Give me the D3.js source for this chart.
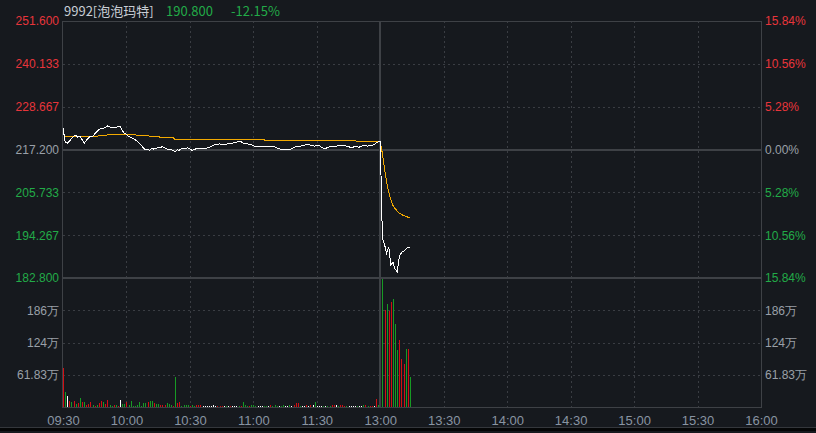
<!DOCTYPE html>
<html>
<head>
<meta charset="utf-8">
<script src="https://cdn.jsdelivr.net/npm/d3@7"></script>
<style>
    html, body { margin: 0; padding: 0; background: #16191e; }
    svg { display: block; font-family: "Noto Sans CJK SC", "Noto Sans", sans-serif; }
</style>
</head>
<body>
<div class="container"></div>
<script>
const w = 816;
const h = 433;

const stockName = '9992[泡泡玛特]';
const prevClose = 217.2;
const lastPrice = 190.8;
const lastChange = '-12.15%';

const timeLabels = ['09:30', '10:00', '10:30', '11:00', '11:30', '13:00', '13:30', '14:00', '14:30', '15:00', '15:30', '16:00'];
const priceTicks = [251.6, 240.133, 228.667, 217.2, 205.733, 194.267, 182.8];
const pctTicks = ['15.84%', '10.56%', '5.28%', '0.00%', '5.28%', '10.56%', '15.84%'];
const volTicks = [61.83, 123.66, 185.49];
const volTickLabels = ['61.83万', '124万', '186万'];

// minute prices 09:30 .. 12:00 (index 0..150)
const priceMorning = [
    223.0, 219.3, 218.9, 219.4, 220.1, 220.7, 221.0, 220.5, 220.7, 219.9,
    218.9, 219.6, 220.3, 220.8, 220.6, 221.4, 222.0, 222.5, 222.8, 222.9,
    223.0, 223.5, 223.3, 223.0, 223.1, 223.0, 223.4, 223.3, 222.3, 221.5,
    221.3, 220.7, 220.5, 220.1, 219.9, 219.4, 218.9, 218.3, 217.6, 217.1,
    217.3, 217.0, 217.5, 217.3, 217.5, 217.8, 217.7, 218.0, 217.7, 217.4,
    217.1, 217.2, 216.9, 216.6, 217.1, 217.0, 217.5, 217.5, 217.4, 217.7,
    217.3, 217.0, 217.1, 217.5, 217.5, 217.5, 217.5, 217.6, 217.6, 217.8,
    218.0, 218.3, 218.6, 218.6, 218.7,
    218.54, 218.5, 218.6, 218.7, 218.8, 218.9, 219.0, 219.15, 219.3, 219.35,
    219.0, 218.7, 218.8, 218.4, 218.5, 218.2, 218.0, 218.0, 218.0, 218.0,
    218.1, 218.0, 218.0, 217.9, 218.1, 218.0, 217.6, 217.4, 217.3, 217.3,
    217.2, 217.1, 217.2, 217.4, 217.7, 218.0, 218.1, 218.1, 218.2, 218.3,
    218.5, 218.5, 218.4, 218.2, 218.1, 218.2, 218.3, 217.9, 217.6, 217.45,
    217.7, 217.9, 218.1, 218.0, 218.1, 218.2, 218.3, 218.3, 218.2, 218.1,
    218.0, 217.7, 217.8, 218.0, 217.9, 217.8, 218.1, 218.2, 218.3, 218.1,
    218.2, 218.3, 218.5, 218.9, 219.25, 219.35
];
// 13:01 .. 13:14 (index 151..164)
const priceAfternoon = [193.6, 191.8, 189.4, 191.1, 186.4, 187.0, 185.2, 184.5, 188.5, 189.6, 190.0, 190.4, 191.1, 190.8];

const avgMorning = [
    221.5, 220.55, 220.55, 220.55, 220.55, 220.55, 220.55, 220.55, 220.55, 220.55,
    220.55, 220.55, 220.55, 220.55, 220.55, 220.55, 220.7, 220.85, 220.85, 220.85,
    220.85, 221.1, 221.1, 221.1, 221.1, 221.1, 221.1, 221.1, 221.1, 221.2,
    221.2, 221.2, 221.2, 221.2, 221.2, 221.0, 221.0, 221.0, 221.0, 221.0,
    221.0, 220.75, 220.75, 220.75, 220.75, 220.75, 220.4, 220.4, 220.4, 220.4,
    220.4, 220.4, 220.4, 219.9, 219.9, 219.9, 219.9, 219.9, 219.9, 219.9,
    219.9, 219.9, 219.9, 219.9, 219.9, 219.9, 219.9, 219.9, 219.9, 219.9,
    219.9, 219.8, 219.8, 219.8, 219.8, 219.8, 219.8, 219.8, 219.8, 219.8,
    219.8, 219.8, 219.8, 219.8, 219.8, 219.8, 219.8, 219.8, 219.8, 219.8,
    219.8, 219.8, 219.8, 219.8, 219.8, 219.8, 219.55, 219.55, 219.55, 219.55,
    219.55, 219.55, 219.55, 219.55, 219.55, 219.55, 219.55, 219.55, 219.55, 219.55,
    219.55, 219.55, 219.55, 219.55, 219.55, 219.55, 219.55, 219.55, 219.55, 219.55,
    219.55, 219.55, 219.55, 219.55, 219.55, 219.55, 219.55, 219.55, 219.55, 219.55,
    219.55, 219.55, 219.55, 219.55, 219.55, 219.55, 219.55, 219.55, 219.55, 219.35,
    219.35, 219.35, 219.35, 219.35, 219.35, 219.35, 219.35, 219.35, 219.35, 219.35,
    219.35
];
const avgAfternoon = [216.1, 212.1, 208.6, 205.7, 203.8, 202.2, 201.4, 200.7, 200.2, 199.8, 199.5, 199.3, 199.1, 199.0];

// volume in 万, index 0..149
const volMorning = [
    75, 29, 22, 12, 10, 12, 5, 8, 18, 9,
    10, 3, 5, 9, 3, 2, 3, 7, 12, 10,
    5, 13, 3, 2, 3, 3, 2, 13, 6, 6,
    10, 3, 12, 2, 2, 3, 10, 2, 8, 8,
    10, 12, 12, 7, 6, 5, 3, 3, 3, 8,
    6, 4, 2, 58, 8, 10, 2, 4, 4, 3,
    2, 3, 2, 3, 3, 3, 2, 2, 2, 2,
    2, 4, 2, 2, 2, 2, 2, 2, 2, 2,
    2, 2, 2, 2, 2, 10, 4, 2, 2, 3,
    3, 2, 2, 2, 2, 2, 2, 2, 3, 2,
    3, 2, 2, 2, 4, 2, 2, 4, 2, 3,
    8, 8, 2, 2, 2, 3, 2, 4, 4, 10,
    2, 2, 2, 2, 2, 2, 2, 3, 4, 4,
    2, 4, 4, 2, 2, 2, 2, 2, 2, 2,
    2, 2, 4, 4, 2, 2, 2, 2, 16, 4
];
const volMorningDir = (
    'RGWRGRGRGR' + 'GRRRGRGRRG' + 'RRGGRGRWGG' + 'RGGGGGGGGG' + 'RGGRGGRRRG' +
    'GGRGRRGGGG' + 'RGGRRRWWWW' + 'WWWRRRWGWR' + 'WWWGRGGGRG' + 'GGWWWGGWRG' +
    'GGWGGWWGWR' + 'RRGWWRWRWG' + 'WWWGWGGRRW' + 'GRRRGWWWWG' + 'WWGRGRRWRG'
).split('');
// volume 13:01 .. 13:14
const volAfternoon = [245, 186, 197, 184, 201, 207, 159, 109, 128, 92, 82, 111, 111, 58];
const volAfternoonDir = 'GRGRRGGGRRRGRG'.split('');

const plot = { left: 63, right: 761, top: 21, mid: 278, bottom: 407 };
const colors = {
    bg: '#16191e',
    grid: '#3a3d43',
    frame: '#3e4146',
    up: '#e8353b',
    down: '#22ab48',
    neutral: '#9aa0a8',
    time: '#8994a2',
    barUp: '#d10f14',
    barDown: '#179a24',
    barFlat: '#ffffff',
    price: '#ffffff',
    avg: '#f2a900'
};

const x = d3.scaleLinear([0, 330], [plot.left, plot.right]);
const yPrice = d3.scaleLinear([182.8, 251.6], [plot.mid, plot.top]);
const yVol = d3.scaleLinear([0, volTicks[0] * 4], [plot.bottom, plot.mid]);

const priceData = priceMorning.map((p, i) => ({ i, p, a: avgMorning[i] }))
    .concat(priceAfternoon.map((p, k) => ({ i: 151 + k, p, a: avgAfternoon[k] })));
const volData = volMorning.map((v, i) => ({ i, v, d: volMorningDir[i] }))
    .concat(volAfternoon.map((v, k) => ({ i: 151 + k, v, d: volAfternoonDir[k] })));

const svg = d3.select('.container')
    .append('svg')
    .attr('width', w)
    .attr('height', h)
    .attr('viewBox', [0, 0, w, h]);

svg.append('rect').attr('width', w).attr('height', h).attr('fill', colors.bg);

// grid
const grid = svg.append('g').attr('shape-rendering', 'crispEdges');
grid.selectAll('.hdot')
    .data([240.133, 228.667, 205.733, 194.267])
    .join('line')
    .attr('x1', plot.left).attr('x2', plot.right)
    .attr('y1', d => Math.round(yPrice(d)) + 0.5).attr('y2', d => Math.round(yPrice(d)) + 0.5)
    .attr('stroke', colors.grid).attr('stroke-dasharray', '2,3');
grid.selectAll('.vdot')
    .data(volTicks)
    .join('line')
    .attr('x1', plot.left).attr('x2', plot.right)
    .attr('y1', d => Math.round(yVol(d)) + 0.5).attr('y2', d => Math.round(yVol(d)) + 0.5)
    .attr('stroke', colors.grid).attr('stroke-dasharray', '2,3');
grid.selectAll('.tdot')
    .data(d3.range(30, 330, 30).filter(t => t !== 150))
    .join('line')
    .attr('x1', d => Math.round(x(d)) + 0.5).attr('x2', d => Math.round(x(d)) + 0.5)
    .attr('y1', plot.top).attr('y2', plot.bottom)
    .attr('stroke', colors.grid).attr('stroke-dasharray', '2,3');

// solid separators
grid.append('line')
    .attr('x1', plot.left).attr('x2', plot.right)
    .attr('y1', yPrice(prevClose)).attr('y2', yPrice(prevClose))
    .attr('stroke', colors.frame).attr('stroke-width', 2);
grid.append('line')
    .attr('x1', plot.left).attr('x2', plot.right)
    .attr('y1', plot.mid).attr('y2', plot.mid)
    .attr('stroke', colors.frame).attr('stroke-width', 2);
grid.append('line')
    .attr('x1', x(150)).attr('x2', x(150))
    .attr('y1', plot.top).attr('y2', plot.bottom)
    .attr('stroke', colors.frame).attr('stroke-width', 2);
grid.append('rect')
    .attr('x', plot.left - 0.5).attr('y', plot.top + 0.5)
    .attr('width', plot.right - plot.left + 1).attr('height', plot.bottom - plot.top)
    .attr('fill', 'none').attr('stroke', colors.frame);

// volume bars
svg.append('g')
    .attr('shape-rendering', 'crispEdges')
    .selectAll('rect')
    .data(volData)
    .join('rect')
    .attr('x', d => Math.round(x(d.i)))
    .attr('width', 1)
    .attr('y', d => Math.round(yVol(d.v)))
    .attr('height', d => plot.bottom - Math.round(yVol(d.v)))
    .attr('fill', d => d.d === 'R' ? colors.barUp : d.d === 'G' ? colors.barDown : colors.barFlat);

// price and average lines
svg.append('path')
    .datum(priceData)
    .attr('fill', 'none')
    .attr('stroke', colors.avg)
    .attr('stroke-width', 1)
    .attr('shape-rendering', 'crispEdges')
    .attr('d', d3.line().x(d => x(d.i)).y(d => yPrice(d.a)));
svg.append('path')
    .datum(priceData)
    .attr('fill', 'none')
    .attr('stroke', colors.price)
    .attr('stroke-width', 1)
    .attr('shape-rendering', 'crispEdges')
    .attr('d', d3.line().x(d => x(d.i)).y(d => yPrice(d.p)));

// axes
const tickColor = i => i < 3 ? colors.up : i === 3 ? colors.neutral : colors.down;

svg.append('g')
    .attr('transform', `translate(${plot.left - 1},0)`)
    .call(d3.axisLeft(yPrice).tickValues(priceTicks).tickFormat(d3.format('.3f')).tickSize(0).tickPadding(3))
    .call(g => g.select('.domain').remove())
    .call(g => g.selectAll('text').attr('fill', (d, i) => tickColor(i)).style('font-size', '12px').style('font-family', null));

svg.append('g')
    .attr('transform', `translate(${plot.right + 1},0)`)
    .call(d3.axisRight(yPrice).tickValues(priceTicks).tickFormat((d, i) => pctTicks[i]).tickSize(0).tickPadding(3))
    .call(g => g.select('.domain').remove())
    .call(g => g.selectAll('text').attr('fill', (d, i) => tickColor(i)).style('font-size', '12px').style('font-family', null));

svg.append('g')
    .attr('transform', `translate(${plot.left - 1},0)`)
    .call(d3.axisLeft(yVol).tickValues(volTicks).tickFormat((d, i) => volTickLabels[i]).tickSize(0).tickPadding(3))
    .call(g => g.select('.domain').remove())
    .call(g => g.selectAll('text').attr('fill', colors.neutral).style('font-size', '12px').style('font-family', null));

svg.append('g')
    .attr('transform', `translate(${plot.right + 1},0)`)
    .call(d3.axisRight(yVol).tickValues(volTicks).tickFormat((d, i) => volTickLabels[i]).tickSize(0).tickPadding(3))
    .call(g => g.select('.domain').remove())
    .call(g => g.selectAll('text').attr('fill', colors.neutral).style('font-size', '12px').style('font-family', null));

svg.append('g')
    .attr('transform', `translate(0,${plot.bottom})`)
    .call(d3.axisBottom(x).tickValues(d3.range(0, 331, 30)).tickFormat((d, i) => timeLabels[i]).tickSize(0).tickPadding(9))
    .call(g => g.select('.domain').remove())
    .call(g => g.selectAll('text').attr('fill', colors.time).style('font-size', '13px').style('font-family', null));

// header
const header = svg.append('g').style('font-size', '13px');
header.append('text').attr('x', 64).attr('y', 16).attr('fill', '#c9ced6').text(stockName);
header.append('text').attr('x', 166).attr('y', 16).attr('fill', colors.down).text(lastPrice.toFixed(3));
header.append('text').attr('x', 231).attr('y', 16).attr('fill', colors.down).text(lastChange);

// bottom frame lines
svg.append('rect').attr('x', 0).attr('y', 427).attr('width', w).attr('height', 1).attr('fill', '#34373c');
svg.append('rect').attr('x', 0).attr('y', 428).attr('width', w).attr('height', 3).attr('fill', '#050607');
</script>
</body>
</html>
